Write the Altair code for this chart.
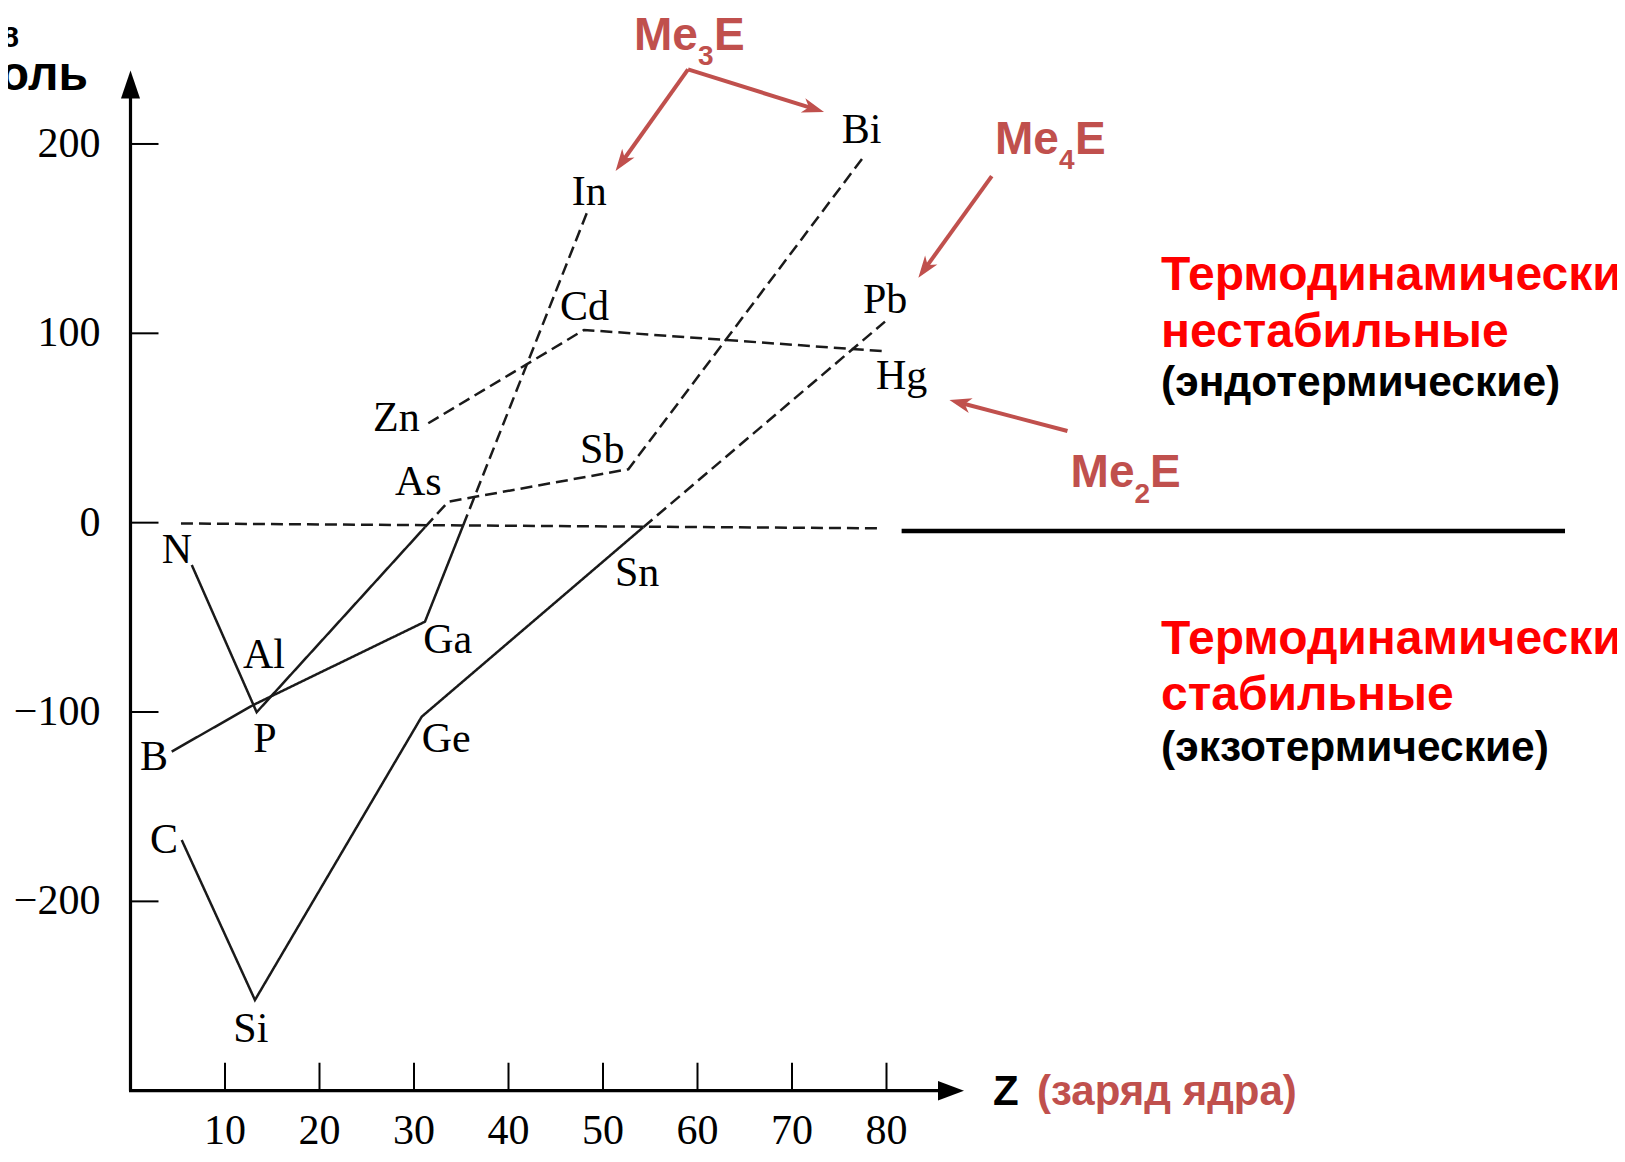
import math
import altair as alt
import pandas as pd

# ---------------- values ----------------
# x = Z (nuclear charge), y = enthalpy of formation, kJ/mol
# Me4E : C, Si, Ge, Sn, Pb   (solid up to Sn, dashed after)
me4_z = [5.42, 13.17, 30.81, 54.26, 79.84]
me4_v = [-167.6, -252.1, -102.5, -2.4, 106.2]
me4_solid_upto = 3

# Me3E (group 15): N, P, (zero crossing), As, Sb, Bi
g15_z = [6.48, 13.35, 31.16, 33.63, 52.68, 77.72]
g15_v = [-22.3, -100.1, -2.4, 11.1, 28.2, 194.2]
g15_solid_upto = 2

# Me3E (group 13): B, Al, Ga, (zero crossing), In
g13_z = [4.36, 12.99, 31.16, 35.19, 48.34]
g13_v = [-120.9, -96.3, -52.3, -1.6, 164.2]
g13_solid_upto = 3

# Me2E : Zn, Cd, Hg  (all dashed)
g12_z = [31.51, 47.99, 79.58]
g12_v = [52.5, 101.8, 90.6]
g12_solid_upto = 0

# zero reference line (dashed)
zero_z = [5.34, 79.31]
zero_v = [-0.4, -3.0]

# element labels
label_text = ["C", "Si", "N", "B", "P", "Al", "Ga", "Ge", "As", "Zn", "Sb", "Sn",
              "In", "Cd", "Bi", "Pb", "Hg"]
label_z = [2.06, 10.88, 3.30, 1.01, 12.99, 11.90, 30.98, 30.81, 27.99, 25.66, 47.57,
           51.27, 46.69, 45.45, 75.26, 77.51, 78.89]
label_v = [-174.6, -274.1, -21.4, -130.6, -120.9, -76.9, -69.0, -120.9, 14.6, 48.6,
           31.7, -33.3, 167.8, 107.1, 200.4, 110.7, 70.8]

# axes
x_ticks = [10, 20, 30, 40, 50, 60, 70, 80]
y_ticks = [-200, -100, 0, 100, 200]
y_tick_labels = ["\u2212200", "\u2212100", "0", "100", "200"]
X_DOMAIN = [0, 88.2]
Y_DOMAIN = [-300, 238.8]

# annotation texts (sans, bold)
RED = "#ff0000"
BROWN = "#c0504d"
BLACK = "#000000"
ann_text = ["Термодинамически", "нестабильные", "(эндотермические)",
            "Термодинамически", "стабильные", "(экзотермические)",
            "Me", "3", "E", "Me", "4", "E", "Me", "2", "E",
            "Z", "(заряд ядра)"]
ann_z = [109.05, 109.05, 109.05, 109.05, 109.05, 109.05,
         53.28, 60.05, 61.75, 91.48, 98.25, 99.95, 99.48, 106.24, 107.88,
         91.27, 95.93]
ann_v = [122.9, 92.8, 66.9, -69.3, -98.9, -125.8,
         249.6, 241.7, 249.6, 194.5, 186.8, 194.5, 18.9, 10.4, 18.9,
         -307.6, -307.6]
ann_color = [RED, RED, BLACK, RED, RED, BLACK,
             BROWN, BROWN, BROWN, BROWN, BROWN, BROWN, BROWN, BROWN, BROWN,
             BLACK, BROWN]
ann_size = [48, 48, 42.5, 48, 48, 42.5,
            46, 28, 46, 46, 28, 46, 46, 28, 46,
            42, 42]

# y-axis title (cut by the left edge in the original)
ytitle_text = ["ΔH°298", "кДж/моль"]
ytitle_z = [-11.8, -4.5]
ytitle_v = [251.0, 228.6]
ytitle_size = [30, 48]

# red arrows: from -> tip
arrow_from_z = [59.0, 59.0, 91.14, 99.15]
arrow_from_v = [239.4, 239.4, 183.0, 48.4]
arrow_to_z = [51.33, 73.39, 83.37, 86.66]
arrow_to_v = [185.7, 216.9, 129.3, 64.8]

# thick black separator at right
sep_z = [81.6, 151.8]
sep_v = [-4.4, -4.4]

# ---------------- layout ----------------
KX = 9.45      # px per unit of Z
KY = 1.8935    # px per kJ/mol
W = (X_DOMAIN[1] - X_DOMAIN[0]) * KX
H = (Y_DOMAIN[1] - Y_DOMAIN[0]) * KY
PAD_L, PAD_T = 122.5, 62.5
PAD_R = 1609 - PAD_L - W
PAD_B = 1146 - PAD_T - H

xs = alt.Scale(domain=X_DOMAIN, nice=False, zero=False)
ys = alt.Scale(domain=Y_DOMAIN, nice=False, zero=False)


def seg_rows(name, zs, vs, solid_upto):
    rows = []
    if solid_upto >= 1:
        for i in range(solid_upto + 1):
            rows.append(dict(seg=name + "_s", style="solid", i=i, Z=zs[i], V=vs[i]))
    if solid_upto < len(zs) - 1:
        for i in range(max(solid_upto, 0), len(zs)):
            rows.append(dict(seg=name + "_d", style="dashed", i=i, Z=zs[i], V=vs[i]))
    return rows


line_rows = (seg_rows("me4", me4_z, me4_v, me4_solid_upto)
             + seg_rows("g15", g15_z, g15_v, g15_solid_upto)
             + seg_rows("g13", g13_z, g13_v, g13_solid_upto)
             + seg_rows("g12", g12_z, g12_v, g12_solid_upto)
             + seg_rows("zero", zero_z, zero_v, 0))
lines_df = pd.DataFrame(line_rows)

lines = alt.Chart(lines_df).mark_line(color="#1a1a1a", strokeWidth=2.5).encode(
    x=alt.X("Z:Q", scale=xs, axis=None),
    y=alt.Y("V:Q", scale=ys, axis=None),
    detail="seg:N",
    order="i:Q",
    strokeDash=alt.StrokeDash("style:N", scale=alt.Scale(domain=["solid", "dashed"],
                                                         range=[[1, 0], [12, 6]]),
                              legend=None),
)

labels_df = pd.DataFrame({"t": label_text, "Z": label_z, "V": label_v})
labels = alt.Chart(labels_df).mark_text(font="Liberation Serif", fontSize=42, align="left",
                                        baseline="alphabetic", color="#000000").encode(
    x=alt.X("Z:Q", scale=xs), y=alt.Y("V:Q", scale=ys), text="t:N")

# axes drawn by hand (ticks point inward, arrow heads)
axis_df = pd.DataFrame({"k": [0]})
y_axis_line = alt.Chart(axis_df).mark_rule(color="black", strokeWidth=3.2).encode(
    x=alt.value(0), y=alt.value(20), y2=alt.value(H))
x_axis_line = alt.Chart(axis_df).mark_rule(color="black", strokeWidth=3.2).encode(
    y=alt.value(H), x=alt.value(-1.5), x2=alt.value(W - 20))
y_arrow = alt.Chart(axis_df).mark_point(shape="M0,0L0.68,2L-0.68,2Z", filled=True, size=784,
                                        color="black", opacity=1, strokeWidth=0).encode(
    x=alt.value(0), y=alt.value(0))
x_arrow = alt.Chart(axis_df).mark_point(shape="M0,0L-2,-0.75L-2,0.75Z", filled=True, size=676,
                                        color="black", opacity=1, strokeWidth=0).encode(
    x=alt.value(W), y=alt.value(H))

xt_df = pd.DataFrame({"Z": x_ticks, "t": [str(v) for v in x_ticks]})
yt_df = pd.DataFrame({"V": y_ticks, "t": y_tick_labels})
x_tick_marks = alt.Chart(xt_df).mark_rule(color="black", strokeWidth=2).encode(
    x=alt.X("Z:Q", scale=xs), y=alt.value(H), y2=alt.value(H - 28))
y_tick_marks = alt.Chart(yt_df).mark_rule(color="black", strokeWidth=2).encode(
    y=alt.Y("V:Q", scale=ys), x=alt.value(0), x2=alt.value(28))
x_tick_labels = alt.Chart(xt_df).mark_text(font="Liberation Serif", fontSize=42, align="center",
                                           baseline="alphabetic", dy=53, color="#000000").encode(
    x=alt.X("Z:Q", scale=xs), y=alt.value(H), text="t:N")
y_tick_text = alt.Chart(yt_df).mark_text(font="Liberation Serif", fontSize=42, align="right",
                                         baseline="middle", color="#000000").encode(
    y=alt.Y("V:Q", scale=ys), x=alt.value(-30), text="t:N")

# separator line
sep_df = pd.DataFrame({"Z": [sep_z[0]], "Z2": [sep_z[1]], "V": [sep_v[0]]})
sep = alt.Chart(sep_df).mark_rule(color="black", strokeWidth=4.5).encode(
    x=alt.X("Z:Q", scale=xs), x2="Z2:Q", y=alt.Y("V:Q", scale=ys))

# annotation texts
ann_df = pd.DataFrame({"t": ann_text, "Z": ann_z, "V": ann_v, "c": ann_color, "s": ann_size})
ann = alt.Chart(ann_df).mark_text(font="Liberation Sans", fontWeight="bold", align="left",
                                  baseline="alphabetic").encode(
    x=alt.X("Z:Q", scale=xs), y=alt.Y("V:Q", scale=ys), text="t:N",
    color=alt.Color("c:N", scale=None), size=alt.Size("s:Q", scale=None))

yt_title_df = pd.DataFrame({"t": ytitle_text, "Z": ytitle_z, "V": ytitle_v, "s": ytitle_size})
y_title = alt.Chart(yt_title_df).mark_text(font="Liberation Sans", fontWeight="bold",
                                           align="right", baseline="alphabetic",
                                           color="black").encode(
    x=alt.X("Z:Q", scale=xs), y=alt.Y("V:Q", scale=ys), text="t:N",
    size=alt.Size("s:Q", scale=None))

# arrows
arr_rows = []
for fz, fv, tz, tv in zip(arrow_from_z, arrow_from_v, arrow_to_z, arrow_to_v):
    dx = (tz - fz) * KX
    dy = -(tv - fv) * KY
    L = math.hypot(dx, dy)
    ux, uy = dx / L, dy / L
    ang = math.degrees(math.atan2(dx, -dy)) % 360
    arr_rows.append(dict(fz=fz, fv=fv, ez=tz - 12 * ux / KX, ev=tv + 12 * uy / KY,
                         tz=tz, tv=tv, ang=ang))
arr_df = pd.DataFrame(arr_rows)
arrow_lines = alt.Chart(arr_df).mark_rule(color=BROWN, strokeWidth=4).encode(
    x=alt.X("fz:Q", scale=xs), y=alt.Y("fv:Q", scale=ys), x2="ez:Q", y2="ev:Q")
arrow_heads = alt.Chart(arr_df).mark_point(shape="M0,0L0.55,1.6L0,1.15L-0.55,1.6Z",
                                           filled=True, size=756, color=BROWN, opacity=1,
                                           strokeWidth=0).encode(
    x=alt.X("tz:Q", scale=xs), y=alt.Y("tv:Q", scale=ys),
    angle=alt.Angle("ang:Q", scale=None))

chart = alt.layer(
    lines, y_axis_line, x_axis_line, y_arrow, x_arrow, x_tick_marks, y_tick_marks,
    x_tick_labels, y_tick_text, labels, sep, ann, y_title, arrow_lines, arrow_heads,
).properties(
    width=W, height=H,
    autosize=alt.AutoSizeParams(type="none"),
    padding={"left": PAD_L, "top": PAD_T, "right": PAD_R, "bottom": PAD_B},
    background="white",
).configure_view(stroke=None)

chart.save("out.html", embed_options={"renderer": "svg", "actions": False})
